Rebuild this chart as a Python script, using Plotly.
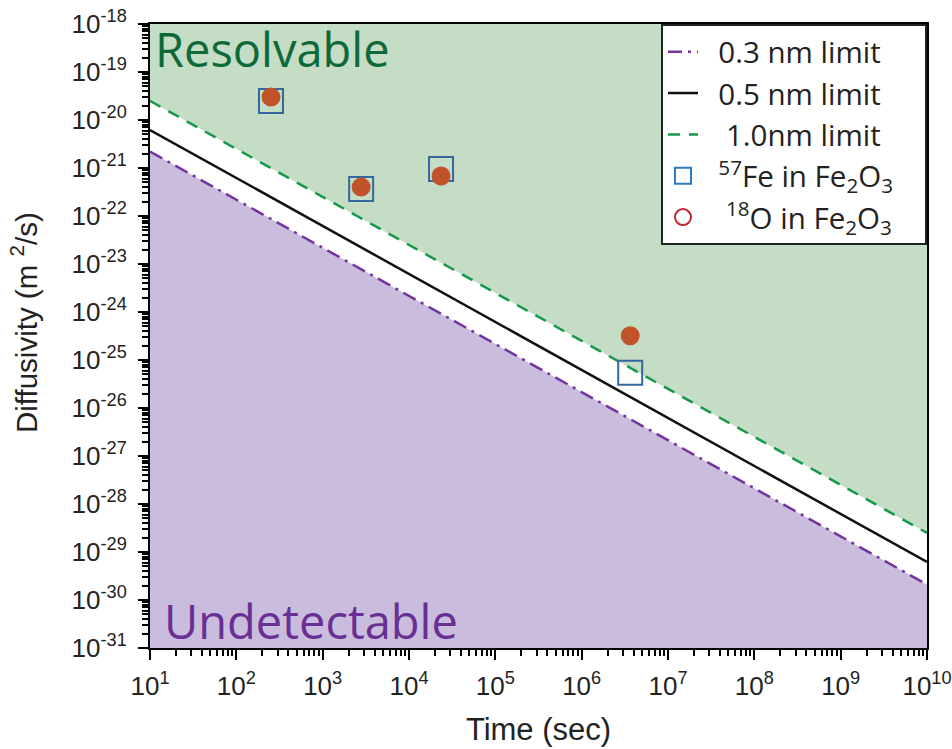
import plotly.graph_objects as go

# ---- data ----
t_ends = [1e1, 1e10]                      # time range of limit lines (s)
lim_03 = [2.2e-21, 2.1e-30]               # 0.3 nm limit
lim_05 = [6.2e-21, 6.2e-30]               # 0.5 nm limit
lim_10 = [2.5e-20, 2.5e-29]               # 1.0 nm limit

fe_t = [252, 2790, 23500, 3.65e6]
fe_D = [2.5e-20, 3.65e-22, 9.5e-22, 5.4e-26]
o_t = [252, 2790, 23500, 3.65e6]
o_D = [3.0e-20, 4.0e-22, 6.8e-22, 3.2e-25]

x_exps = list(range(1, 11))
y_exps = list(range(-31, -17))
y_min, y_max = 1e-31, 1e-18

NB = "\u00a0"
fig = go.Figure()

# filled regions
fig.add_trace(go.Scatter(
    x=[t_ends[0], t_ends[1], t_ends[1], t_ends[0]],
    y=[lim_10[0], lim_10[1], y_max, y_max],
    fill="toself", fillcolor="#c5dcc5", line=dict(width=0),
    mode="lines", showlegend=False, hoverinfo="skip"))
fig.add_trace(go.Scatter(
    x=[t_ends[0], t_ends[1], t_ends[1], t_ends[0]],
    y=[lim_03[0], lim_03[1], y_min, y_min],
    fill="toself", fillcolor="#c9bcdd", line=dict(width=0),
    mode="lines", showlegend=False, hoverinfo="skip"))

# limit lines
fig.add_trace(go.Scatter(x=t_ends, y=lim_03, mode="lines", name=NB * 2 + "0.3 nm limit" + NB * 5,
                         line=dict(color="#7434a0", width=2.5, dash="14px,6px,3px,6px")))
fig.add_trace(go.Scatter(x=t_ends, y=lim_05, mode="lines", name=NB * 2 + "0.5 nm limit" + NB * 5,
                         line=dict(color="#111111", width=2.5)))
fig.add_trace(go.Scatter(x=t_ends, y=lim_10, mode="lines", name=NB * 3 + "1.0nm limit",
                         line=dict(color="#15994a", width=2.5, dash="12px,9px")))

# data markers
fig.add_trace(go.Scatter(x=fe_t, y=fe_D, mode="markers", showlegend=False,
                         marker=dict(symbol="square-open", size=24,
                                     line=dict(color="#35679f", width=2), color="#35679f")))
fig.add_trace(go.Scatter(x=o_t, y=o_D, mode="markers", showlegend=False,
                         marker=dict(symbol="circle", size=19, color="#c0532a",
                                     line=dict(width=0))))

# legend-only entries
fig.add_trace(go.Scatter(x=[None], y=[None], mode="markers",
                         name=NB * 2 + "<sup>57</sup>Fe in Fe<sub>2</sub>O<sub>3</sub>",
                         marker=dict(symbol="square-open", size=18, color="#2f7cc0",
                                     line=dict(color="#2f7cc0", width=2))))
fig.add_trace(go.Scatter(x=[None], y=[None], mode="markers",
                         name=NB * 3 + "<sup>18</sup>O in Fe<sub>2</sub>O<sub>3</sub>",
                         marker=dict(symbol="circle-open", size=18, color="#c0272d",
                                     line=dict(color="#c0272d", width=2))))

minor_x = [k * 10 ** e for e in x_exps[:-1] for k in range(2, 10)]
minor_y = [k * 10.0 ** e for e in y_exps[:-1] for k in range(2, 10)]

fig.update_xaxes(
    type="log", range=[1, 10], automargin=False,
    tickmode="array", tickvals=[10 ** e for e in x_exps],
    ticktext=[f"10<sup>{e}</sup>" for e in x_exps],
    ticks="outside", ticklen=10, tickwidth=2, tickcolor="black",
    minor=dict(tickmode="array", tickvals=minor_x, ticks="outside", ticklen=6,
               tickwidth=1.5, tickcolor="black", showgrid=False),
    showline=True, linecolor="black", linewidth=2, mirror=True,
    showgrid=False, zeroline=False, ticklabelstandoff=4,
    tickfont=dict(family="Liberation Sans, Arial", size=26, color="#222"),
    title=dict(text="Time (sec)", font=dict(family="Liberation Sans, Arial", size=31, color="#222"),
               standoff=18),
)
fig.update_yaxes(
    type="log", range=[-31, -18], automargin=False,
    tickmode="array", tickvals=[10.0 ** e for e in y_exps],
    ticktext=[f"10<sup>{e}</sup>" for e in y_exps],
    ticks="outside", ticklen=10, tickwidth=2, tickcolor="black",
    minor=dict(tickmode="array", tickvals=minor_y, ticks="outside", ticklen=6,
               tickwidth=1.5, tickcolor="black", showgrid=False),
    showline=True, linecolor="black", linewidth=2, mirror=True,
    showgrid=False, zeroline=False, ticklabelstandoff=6,
    tickfont=dict(family="Liberation Sans, Arial", size=26, color="#222"),
)

fig.add_annotation(text="Diffusivity (m <sup>2</sup>/s)", textangle=-90,
                   xref="paper", yref="paper", x=-0.162, y=0.521,
                   xanchor="center", yanchor="middle", showarrow=False,
                   font=dict(family="Liberation Sans, Arial", size=29.5, color="#222"))
fig.add_annotation(text="Resolvable", xref="paper", yref="paper", x=0.004, y=0.96,
                   xanchor="left", yanchor="middle", showarrow=False,
                   font=dict(family="Open Sans", size=47, color="#0d6a38"))
fig.add_annotation(text="Undetectable", xref="paper", yref="paper", x=0.016, y=0.044,
                   xanchor="left", yanchor="middle", showarrow=False,
                   font=dict(family="Open Sans", size=47, color="#6a2f94"))

fig.update_layout(
    width=952, height=749,
    margin=dict(l=150, r=25, t=24, b=101),
    paper_bgcolor="white", plot_bgcolor="white",
    legend=dict(x=1, y=1, xanchor="right", yanchor="top",
                bgcolor="white", bordercolor="#222", borderwidth=2,
                font=dict(family="Open Sans", size=29.5, color="#222"),
                tracegroupgap=0),
)

fig.write_html("out.html")
